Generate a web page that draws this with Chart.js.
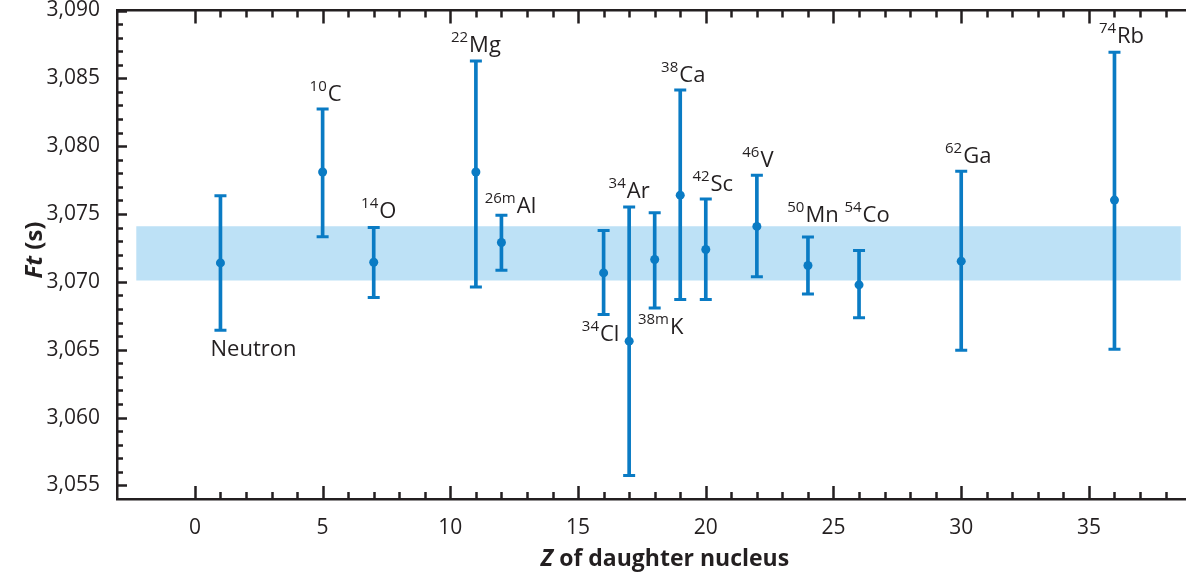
<!DOCTYPE html>
<html>
<head>
<meta charset="utf-8">
<script src="https://cdn.jsdelivr.net/npm/chart.js@4.4.0/dist/chart.umd.min.js"></script>
<style>
  html, body { margin: 0; padding: 0; background: #fff; }
</style>
</head>
<body>
<canvas id="ftChart" width="1186" height="576"></canvas>
<script>
// Superallowed decays: Z of the daughter nucleus and the corrected Ft value (s)
const labelSup  = ['', '10', '14', '22', '26m', '34', '34', '38m', '38', '42', '46', '50', '54', '62', '74'];
const labelSym  = ['Neutron', 'C', 'O', 'Mg', 'Al', 'Cl', 'Ar', 'K', 'Ca', 'Sc', 'V', 'Mn', 'Co', 'Ga', 'Rb'];
const zDaughter = [1, 5, 7, 11, 12, 16, 17, 18, 19, 20, 22, 24, 26, 30, 36];
const ftValue   = [3071.4, 3078.1, 3071.45, 3078.1, 3072.9, 3070.66, 3065.63, 3071.65, 3076.39, 3072.39, 3074.09, 3071.21, 3069.78, 3071.53, 3076.03];
const ftUpper   = [3076.34, 3082.74, 3074.01, 3086.28, 3074.92, 3073.79, 3075.51, 3075.09, 3084.14, 3076.1, 3077.85, 3073.3, 3072.32, 3078.16, 3086.92];
const ftLower   = [3066.44, 3073.32, 3068.85, 3069.63, 3070.86, 3067.6, 3055.74, 3068.08, 3068.7, 3068.7, 3070.37, 3069.11, 3067.35, 3064.96, 3065.04];

// shaded band (average Ft)
const bandX     = [-2.3, 38.6];
const bandUpper = [3074.1, 3074.1];
const bandLower = [3070.1, 3070.1];

// tick labels
const xTicks = [0, 5, 10, 15, 20, 25, 30, 35];
const yTicks = [3055, 3060, 3065, 3070, 3075, 3080, 3085, 3090];

// label placement: which end of the error bar, horizontal nudge, baseline offset (px)
const labelPlace = [
    ['below', 33, 26],
    ['above', 3, -8],
    ['above', 5, -9],
    ['above', 0, -9],
    ['above', 9, -2],
    ['below', -3, 27],
    ['above', 0, -9],
    ['below', 6, 26],
    ['above', 3, -8],
    ['above', 7, -8],
    ['above', 1, -8],
    ['above', 5, -15],
    ['above', 8, -28],
    ['above', 7, -8],
    ['above', 7, -9]
];

const FONT = '"Open Sans", "Noto Sans", sans-serif';
const ink = '#231f20';
const blue = '#0a7bc4';
const bandColor = '#bde1f6';

/**
 * Draws tick marks pointing into the plot on bottom, top and left axes.
 */
const inwardTicks = {
    id: 'inwardTicks',
    afterDraw(chart) {
        const { ctx, chartArea: a, scales: { x, y } } = chart;
        ctx.save();
        ctx.strokeStyle = ink;
        ctx.lineWidth = 2.5;
        ctx.beginPath();
        for (let v = 0; v <= x.max; v++) {
            const px = Math.round(x.getPixelForValue(v)) + 0.5;
            const len = v % 5 === 0 ? 13 : 7;
            ctx.moveTo(px, a.bottom);
            ctx.lineTo(px, a.bottom - len);
            ctx.moveTo(px, a.top);
            ctx.lineTo(px, a.top + len);
        }
        for (let v = 3055; v <= y.max; v++) {
            const py = Math.round(y.getPixelForValue(v)) + 0.5;
            const len = v % 5 === 0 ? 10 : 6;
            ctx.moveTo(a.left, py);
            ctx.lineTo(a.left + len, py);
        }
        ctx.stroke();
        ctx.restore();
    }
};

/**
 * Writes the nucleus names next to their error bars.
 */
const nucleusLabels = {
    id: 'nucleusLabels',
    afterDatasetsDraw(chart) {
        const { ctx, scales: { x, y } } = chart;
        ctx.save();
        ctx.fillStyle = ink;
        ctx.textAlign = 'left';
        ctx.textBaseline = 'alphabetic';
        labelSym.forEach((sym, i) => {
            const [side, dx, dy] = labelPlace[i];
            const sup = labelSup[i];
            const anchor = y.getPixelForValue(side === 'above' ? ftUpper[i] : ftLower[i]);
            ctx.font = `15px ${FONT}`;
            const ws = sup ? ctx.measureText(sup).width + 1 : 0;
            ctx.font = `22px ${FONT}`;
            const wm = ctx.measureText(sym).width;
            const left = x.getPixelForValue(zDaughter[i]) + dx - (ws + wm) / 2;
            const base = anchor + dy;
            if (sup) {
                ctx.font = `15px ${FONT}`;
                ctx.fillText(sup, left, base - 10);
            }
            ctx.font = `22px ${FONT}`;
            ctx.fillText(sym, left + ws, base);
        });
        ctx.restore();
    }
};

/**
 * Axis titles with mixed italic / upright parts.
 */
const axisTitles = {
    id: 'axisTitles',
    afterDraw(chart) {
        const { ctx } = chart;
        ctx.save();
        ctx.fillStyle = ink;
        ctx.textBaseline = 'alphabetic';
        ctx.textAlign = 'left';

        // y title, rotated
        const yi = `italic bold 24px ${FONT}`, yn = `bold 24px ${FONT}`;
        ctx.font = yi; const w1 = ctx.measureText('Ft').width;
        ctx.font = yn; const w2 = ctx.measureText(' (s)').width;
        ctx.translate(42, 250);
        ctx.rotate(-Math.PI / 2);
        ctx.font = yi; ctx.fillText('Ft', -(w1 + w2) / 2, 0);
        ctx.font = yn; ctx.fillText(' (s)', -(w1 + w2) / 2 + w1, 0);
        ctx.setTransform(1, 0, 0, 1, 0, 0);

        // x title
        const xi = `italic bold 23px ${FONT}`, xn = `bold 23px ${FONT}`;
        ctx.font = xi; const v1 = ctx.measureText('Z').width;
        ctx.font = xn; const v2 = ctx.measureText(' of daughter nucleus').width;
        const x0 = 665 - (v1 + v2) / 2;
        ctx.font = xi; ctx.fillText('Z', x0, 566);
        ctx.font = xn; ctx.fillText(' of daughter nucleus', x0 + v1, 566);
        ctx.restore();
    }
};

// drop the extra padding Chart.js reserves around tick labels
function noScalePadding(s) {
    s.paddingTop = 0;
    s.paddingBottom = 0;
    s.paddingLeft = 0;
    s.paddingRight = 0;
}

function createChart() {
    const ctx = document.getElementById('ftChart').getContext('2d');
    const axisBorder = { display: true, color: ink, width: 2.5 };
    const tickFont = { family: FONT, size: 21, lineHeight: 1 };

    new Chart(ctx, {
        type: 'bar',
        data: {
            datasets: [
                {
                    type: 'line',
                    data: bandX.map((x, i) => ({ x, y: bandUpper[i] })),
                    borderColor: 'rgba(0,0,0,0)',
                    pointRadius: 0,
                    fill: false,
                    order: 10
                },
                {
                    type: 'line',
                    data: bandX.map((x, i) => ({ x, y: bandLower[i] })),
                    borderColor: 'rgba(0,0,0,0)',
                    backgroundColor: bandColor,
                    pointRadius: 0,
                    fill: '-1',
                    order: 10
                },
                {
                    type: 'bar',
                    data: zDaughter.map((x, i) => ({ x, y: [ftLower[i], ftUpper[i]] })),
                    backgroundColor: blue,
                    borderWidth: 0,
                    barThickness: 3,
                    order: 3
                },
                {
                    type: 'scatter',
                    data: zDaughter.map((x, i) => ({ x, y: ftUpper[i] }))
                        .concat(zDaughter.map((x, i) => ({ x, y: ftLower[i] }))),
                    pointStyle: 'line',
                    pointRadius: 6,
                    borderColor: blue,
                    borderWidth: 3,
                    order: 2
                },
                {
                    type: 'scatter',
                    data: zDaughter.map((x, i) => ({ x, y: ftValue[i] })),
                    pointRadius: 4.5,
                    backgroundColor: blue,
                    borderWidth: 0,
                    order: 1
                }
            ]
        },
        options: {
            responsive: false,
            devicePixelRatio: 1,
            animation: false,
            layout: { autoPadding: false, padding: { top: 10.5, right: 0, bottom: 0, left: 0 } },
            plugins: {
                legend: { display: false },
                tooltip: { enabled: false }
            },
            scales: {
                x: {
                    type: 'linear',
                    position: 'bottom',
                    offset: false,
                    min: -3.05,
                    max: 38.8,
                    afterBuildTicks: s => { s.ticks = xTicks.map(v => ({ value: v })); },
                    afterFit: s => { s.height = 77; noScalePadding(s); },
                    grid: { display: false, offset: false },
                    border: axisBorder,
                    ticks: { font: tickFont, color: ink, padding: 11, maxRotation: 0 }
                },
                x2: {
                    type: 'linear',
                    position: 'top',
                    offset: false,
                    min: -3.05,
                    max: 38.8,
                    afterFit: s => { s.height = 0; noScalePadding(s); },
                    grid: { display: false },
                    border: axisBorder,
                    ticks: { display: false }
                },
                y: {
                    type: 'linear',
                    min: 3054,
                    max: 3090,
                    afterBuildTicks: s => { s.ticks = yTicks.map(v => ({ value: v })); },
                    afterFit: s => { s.width = 117; noScalePadding(s); },
                    grid: { display: false },
                    border: axisBorder,
                    ticks: {
                        font: tickFont,
                        color: ink,
                        padding: 9,
                        callback: v => v.toLocaleString('en-US')
                    }
                }
            }
        },
        plugins: [inwardTicks, nucleusLabels, axisTitles]
    });
}

createChart();
</script>
</body>
</html>
